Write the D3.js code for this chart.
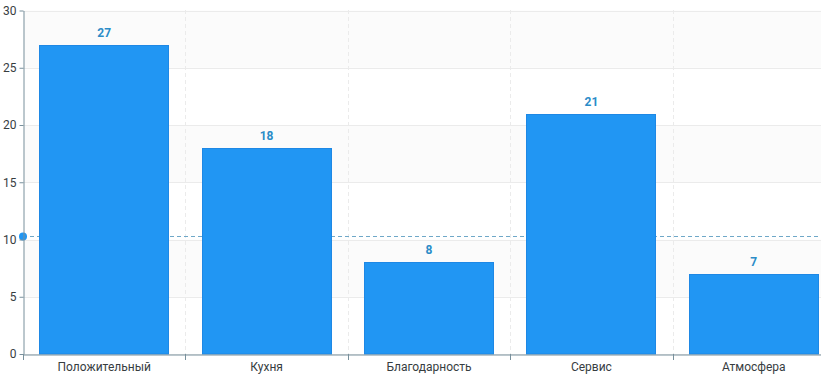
<!DOCTYPE html>
<html>
<head>
<meta charset="utf-8">
<script src="https://cdn.jsdelivr.net/npm/d3@7"></script>
<style>
  body { margin: 0; background: #fff; }
  svg { display: block; font-family: Roboto, "Noto Sans", sans-serif; }
</style>
</head>
<body>
<div id="chart"></div>
<script>
const categories = ["Положительный", "Кухня", "Благодарность", "Сервис", "Атмосфера"];
const counts = [27, 18, 8, 21, 7];
const yTicks = [0, 5, 10, 15, 20, 25, 30];
const markerValue = 10.3;

const width = 821, height = 376;
const margin = { top: 10, right: -14, bottom: 22, left: 23 };

const svg = d3.select("#chart")
    .append("svg")
    .attr("width", width)
    .attr("height", height);

const x = d3.scaleBand()
    .domain(categories)
    .range([margin.left, width - margin.right])
    .paddingInner(0.2)
    .paddingOuter(0.1);

// band used for grid boundaries (no padding)
const xb = d3.scaleBand()
    .domain(categories)
    .range([margin.left, width - margin.right]);

const y = d3.scaleLinear()
    .domain([0, 30])
    .range([height - margin.bottom, margin.top + 0.5]);

// alternating row bands
const bands = d3.range(0, yTicks.length - 1);
svg.append("g")
    .selectAll("rect")
    .data(bands)
    .join("rect")
    .attr("x", margin.left)
    .attr("width", width - margin.left)
    .attr("y", i => y(yTicks[i + 1]))
    .attr("height", i => y(yTicks[i]) - y(yTicks[i + 1]))
    .attr("fill", i => i % 2 === 0 ? "#ffffff" : "#fbfbfb");

// horizontal grid lines
svg.append("g")
    .selectAll("line")
    .data(yTicks)
    .join("line")
    .attr("x1", margin.left)
    .attr("x2", width)
    .attr("y1", d => Math.round(y(d)) + 0.5)
    .attr("y2", d => Math.round(y(d)) + 0.5)
    .attr("stroke", "#ebebeb");

// vertical dashed grid lines at category boundaries
svg.append("g")
    .selectAll("line")
    .data(categories.slice(1))
    .join("line")
    .attr("x1", d => Math.round(xb(d)) + 0.5)
    .attr("x2", d => Math.round(xb(d)) + 0.5)
    .attr("y1", margin.top)
    .attr("y2", height - margin.bottom)
    .attr("stroke", "#ebebeb")
    .attr("stroke-dasharray", "4,3");

// marker dashed line (behind bars)
svg.append("line")
    .attr("x1", margin.left)
    .attr("x2", width)
    .attr("y1", Math.round(y(markerValue)) + 0.5)
    .attr("y2", Math.round(y(markerValue)) + 0.5)
    .attr("stroke", "#6fa8c8")
    .attr("stroke-dasharray", "4,3");

// bars
svg.append("g")
    .selectAll("rect")
    .data(categories)
    .join("rect")
    .attr("x", d => Math.round(x(d)) + 0.5)
    .attr("width", Math.round(x.bandwidth()) - 1)
    .attr("y", (d, i) => Math.round(y(counts[i])) + 0.5)
    .attr("height", (d, i) => y(0) - Math.round(y(counts[i])) - 0.5)
    .attr("fill", "#2196f3")
    .attr("stroke", "#1e88e5")
    .attr("stroke-width", 1);

// value labels
svg.append("g")
    .selectAll("text")
    .data(categories)
    .join("text")
    .attr("x", d => x(d) + x.bandwidth() / 2)
    .attr("y", (d, i) => y(counts[i]) - 8)
    .attr("text-anchor", "middle")
    .attr("font-size", 12)
    .attr("font-weight", 700)
    .attr("fill", "#2b8cc8")
    .text((d, i) => counts[i]);

svg.append("circle")
    .attr("cx", margin.left)
    .attr("cy", Math.round(y(markerValue)) + 0.5)
    .attr("r", 4)
    .attr("fill", "#2196f3");

// y axis
const yAxis = svg.append("g")
    .attr("transform", `translate(${margin.left + 0.5},0)`)
    .call(d3.axisLeft(y).tickValues(yTicks).tickSize(4).tickSizeOuter(0));
yAxis.select(".domain").attr("stroke", "#78909c");
yAxis.selectAll(".tick line").attr("stroke", "#78909c");
yAxis.selectAll(".tick text")
    .attr("font-size", 12)
    .attr("font-family", "Roboto, sans-serif")
    .attr("fill", "#373d3f")
    .attr("x", -7);

// x axis
const xAxis = svg.append("g")
    .attr("transform", `translate(0,${height - margin.bottom + 0.5})`)
    .call(d3.axisBottom(x).tickSize(0).tickSizeOuter(0));
xAxis.select(".domain").attr("stroke", "#78909c");
xAxis.selectAll(".tick text")
    .attr("font-size", 12)
    .attr("font-family", "Roboto, sans-serif")
    .attr("fill", "#373d3f")
    .attr("dy", "0.71em")
    .attr("y", 8);

// x ticks at boundaries
svg.append("g")
    .selectAll("line")
    .data(categories)
    .join("line")
    .attr("x1", d => Math.round(xb(d)) + 0.5)
    .attr("x2", d => Math.round(xb(d)) + 0.5)
    .attr("y1", height - margin.bottom)
    .attr("y2", height - margin.bottom + 6)
    .attr("stroke", "#78909c");
</script>
</body>
</html>
